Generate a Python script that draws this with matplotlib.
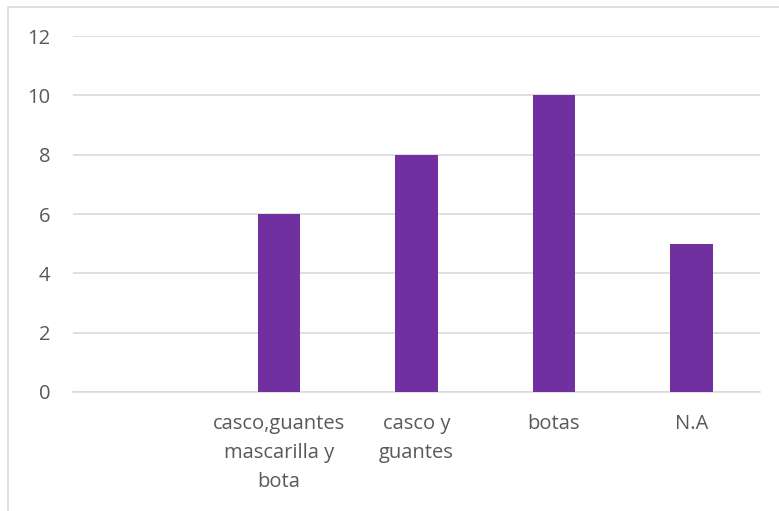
import matplotlib
matplotlib.use('Agg')
import matplotlib.pyplot as plt
from matplotlib.patches import Rectangle

# categories and counts
categories = ['', 'casco,guantes\nmascarilla y\nbota', 'casco y\nguantes', 'botas', 'N.A']
values = [0, 6, 8, 10, 5]
y_ticks = [0, 2, 4, 6, 8, 10, 12]

plt.rcParams['font.family'] = ['Open Sans', 'DejaVu Sans']

fig = plt.figure(figsize=(7.79, 5.11), dpi=100)
ax = fig.add_axes([0.0937, 0.2329, 0.8819, 0.6966])

# outer chart border
fig.patches.append(Rectangle((8 / 779, -0.05), 1.2, 1 - 7 / 511 + 0.05,
                             transform=fig.transFigure, fill=False,
                             edgecolor='#D9D9D9', linewidth=1.2))

x = range(len(categories))
ax.bar(x, values, width=0.31, color='#7030A0', zorder=3)

ax.set_xlim(-0.5, len(categories) - 0.5)
ax.set_ylim(0, 12)
ax.set_yticks(y_ticks)
ax.set_xticks(list(x))
ax.set_xticklabels(categories, linespacing=1.6)
ax.grid(axis='y', color='#D9D9D9', linewidth=1.2, zorder=0)

for s in ['top', 'right', 'left']:
    ax.spines[s].set_visible(False)
ax.spines['bottom'].set_color('#D9D9D9')
ax.spines['bottom'].set_linewidth(1.2)

ax.tick_params(axis='both', length=0, labelsize=14.5, colors='#595959')
ax.tick_params(axis='y', pad=16.5)
ax.tick_params(axis='x', pad=16)

fig.savefig('out.png', dpi=100)
